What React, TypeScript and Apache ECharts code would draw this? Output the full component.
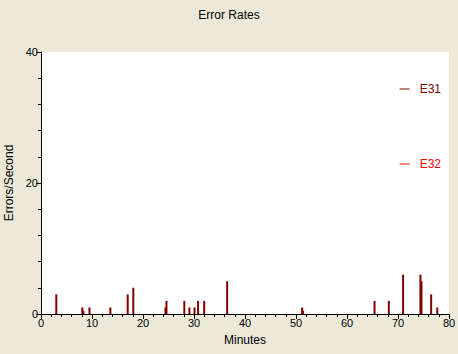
import React, { useEffect, useRef } from "react";
import * as echarts from "echarts";

const e31Minutes = [3.0, 8.1, 8.3, 9.5, 13.6, 17.0, 18.1, 24.4, 24.6, 28.1, 29.1, 30.1, 30.8, 32.0, 36.5, 51.2, 51.4, 65.4, 68.2, 71.0, 74.4, 74.6, 76.5, 77.7];
const e31Values = [3, 1, 0.5, 1, 1, 3, 4, 1, 2, 2, 1, 1, 2, 2, 5, 1, 0.5, 2, 2, 6, 6, 5, 3, 1];
const e32Minutes: number[] = [];
const e32Values: number[] = [];

const FONT = "Liberation Sans";

export default function App() {
  const ref = useRef<HTMLDivElement>(null);
  useEffect(() => {
    const chart = echarts.init(ref.current!, null, { renderer: "svg" });
    chart.setOption({
      animation: false,
      backgroundColor: "#ECE9D8",
      title: {
        text: "Error Rates",
        left: "center",
        top: 4,
        textStyle: { fontFamily: FONT, fontSize: 12, fontWeight: "normal", color: "#000" },
      },
      legend: {
        orient: "vertical",
        right: 12,
        top: 78,
        itemGap: 63,
        itemWidth: 10,
        itemHeight: 1,
        icon: "rect",
        textStyle: { fontFamily: FONT, fontSize: 12, padding: [0, 0, 0, 5] },
        data: [
          { name: "E31", textStyle: { color: "#800000" } },
          { name: "E32", textStyle: { color: "#FF0000" } },
        ],
      },
      grid: {
        left: 41,
        right: 9,
        top: 52,
        bottom: 40,
        show: true,
        backgroundColor: "#FFFFFF",
        borderWidth: 0,
        outerBoundsMode: "none",
        containLabel: false,
      },
      xAxis: {
        type: "value",
        min: 0,
        max: 80,
        interval: 10,
        name: "Minutes",
        nameLocation: "middle",
        nameGap: 20,
        nameTextStyle: { fontFamily: FONT, fontSize: 12, color: "#000" },
        axisLine: { show: true, lineStyle: { color: "#000", width: 1 } },
        axisTick: { show: true, length: 5, lineStyle: { color: "#000" } },
        minorTick: { show: true, splitNumber: 5, length: 3, lineStyle: { color: "#000" } },
        splitLine: { show: false },
        axisLabel: { fontFamily: FONT, fontSize: 11, color: "#000", margin: 3 },
      },
      yAxis: {
        type: "value",
        min: 0,
        max: 40,
        interval: 20,
        name: "Errors/Second",
        nameLocation: "middle",
        nameGap: 26,
        nameTextStyle: { fontFamily: FONT, fontSize: 12, color: "#000" },
        axisLine: { show: true, lineStyle: { color: "#000", width: 1 } },
        axisTick: { show: true, length: 5, lineStyle: { color: "#000" } },
        minorTick: { show: true, splitNumber: 5, length: 3, lineStyle: { color: "#000" } },
        splitLine: { show: false },
        axisLabel: { fontFamily: FONT, fontSize: 11, color: "#000", margin: 3 },
      },
      series: [
        {
          name: "E31",
          type: "bar",
          barWidth: 2,
          barGap: "-100%",
          itemStyle: { color: "#800000" },
          data: e31Minutes.map((m, i) => [m, e31Values[i]]),
        },
        {
          name: "E32",
          type: "bar",
          barWidth: 2,
          barGap: "-100%",
          itemStyle: { color: "#FF0000" },
          data: e32Minutes.map((m, i) => [m, e32Values[i]]),
        },
      ],
    });
    return () => chart.dispose();
  }, []);
  return <div ref={ref} style={{ width: 458, height: 354, position: "absolute", left: 0, top: 0 }} />;
}
